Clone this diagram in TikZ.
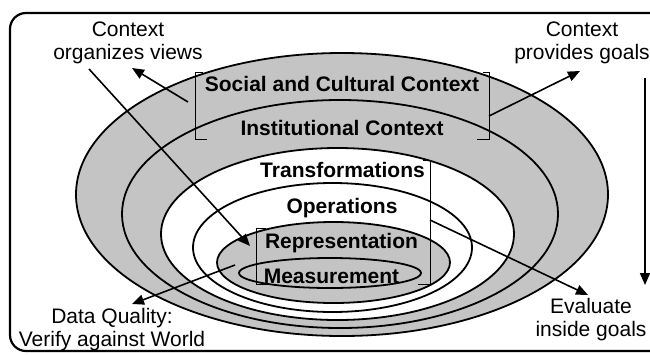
\documentclass[tikz,border=0pt]{standalone}
\usepackage{fontspec}
\setmainfont{Liberation Sans}
\usetikzlibrary{arrows.meta}
\definecolor{ringgray}{RGB}{196,196,196}
\begin{document}
\begin{tikzpicture}[x=1pt,y=-1pt,
  ring/.style={draw=black,line width=1.8pt},
  conn/.style={line width=1.6pt,-{Triangle[length=12pt,width=10pt]}},
  brk/.style={line width=1pt},
  lbl/.style={font=\fontsize{21}{24}\selectfont\bfseries,inner sep=0pt,anchor=base},
  note/.style={font=\fontsize{21}{23}\selectfont,align=center,inner sep=0pt}]
\useasboundingbox (0,0) rectangle (650,354);
\clip (0,0) rectangle (650,354);
% frame
\draw[line width=2.2pt,rounded corners=16pt] (10,13) rectangle (700,351);
% nested ellipses
\draw[ring,fill=ringgray] (342,194.5) ellipse [x radius=266pt, y radius=141.5pt];
\draw[ring,fill=ringgray] (340,214) ellipse [x radius=218pt, y radius=114pt];
\draw[ring,fill=white] (337.5,234) ellipse [x radius=176.5pt, y radius=86pt];
\draw[ring,fill=white] (332.5,247.5) ellipse [x radius=139.5pt, y radius=64.5pt];
\draw[ring,fill=ringgray] (333.5,262.5) ellipse [x radius=116.5pt, y radius=40.5pt];
\draw[ring,fill=ringgray] (330,273) ellipse [x radius=91pt, y radius=15pt];
% brackets
\draw[brk] (203,72) -- (195,72) -- (195,139) -- (207,139);
\draw[brk] (483,72) -- (489,72) -- (489,139) -- (477,139);
\draw[brk] (423,160) -- (430,160) -- (430,284) -- (418,284);
\draw[brk] (266,228) -- (256,228) -- (256,284) -- (267,284);
% layer labels
\node[lbl] (social) at (342,91) {Social and Cultural Context};
\node[lbl] (inst) at (342,135) {Institutional Context};
\node[lbl] (trans) at (342.5,177) {Transformations};
\node[lbl] (oper) at (342,213) {Operations};
\node[lbl] (repr) at (341.5,248) {Representation};
\node[lbl] (meas) at (331.5,283) {Measurement};
% side notes
\node[note] (orgviews) at (128,43) {Context\\organizes views};
\node[note] (provgoals) at (582,43) {Context\\provides goals};
\node[note] (dataq) at (112,330) {Data Quality:\\Verify against World};
\node[note] (evalgoals) at (591,320) {Evaluate\\inside goals};
% connector ends
\coordinate (a1s) at (188,102);
\coordinate (a1e) at (132,68);
\coordinate (a2s) at (89,69);
\coordinate (a2e) at (250,246);
\coordinate (a3s) at (489,116);
\coordinate (a3e) at (580,71);
\coordinate (a4s) at (645,78);
\coordinate (a4e) at (645,285);
\coordinate (a5s) at (430,220);
\coordinate (a5e) at (588,295);
\coordinate (a6s) at (235,265);
\coordinate (a6e) at (132,304);
\draw[conn] (a1s) -- (a1e);
\draw[conn] (a2s) -- (a2e);
\draw[conn] (a3s) -- (a3e);
\draw[conn] (a4s) -- (a4e);
\draw[conn] (a5s) -- (a5e);
\draw[conn] (a6s) -- (a6e);
\end{tikzpicture}
\end{document}
